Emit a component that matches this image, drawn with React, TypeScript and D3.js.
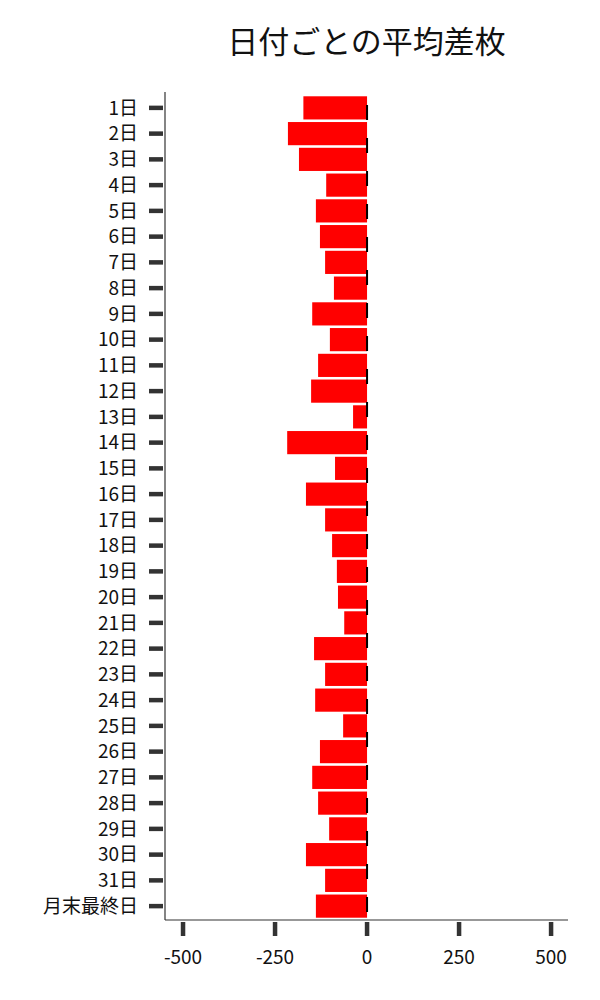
import { useEffect, useRef } from 'react'
import * as d3 from 'd3'

// 日付ラベル
const days = [
  '1日', '2日', '3日', '4日', '5日', '6日', '7日', '8日', '9日', '10日',
  '11日', '12日', '13日', '14日', '15日', '16日', '17日', '18日', '19日', '20日',
  '21日', '22日', '23日', '24日', '25日', '26日', '27日', '28日', '29日', '30日',
  '31日', '月末最終日',
]

// 平均差枚
const avgDiff = [
  -173, -215, -185, -111, -139, -128, -114, -90, -149, -101,
  -133, -152, -38, -217, -87, -166, -114, -95, -82, -79,
  -62, -144, -114, -141, -65, -128, -149, -133, -103, -166,
  -114, -139,
]

const xTicks = [-500, -250, 0, 250, 500]

const FONT = '"Noto Sans CJK JP", "Noto Sans", sans-serif'

export default function App() {
  const svgRef = useRef<SVGSVGElement>(null)

  useEffect(() => {
    if (!svgRef.current) return
    const svg = d3.select(svgRef.current)
    svg.selectAll('*').remove()

    const width = 600
    const height = 1000
    const left = 165
    const right = 568
    const top = 92
    const bottom = 920

    const x = d3.scaleLinear().domain([-549, 546]).range([left, right])
    const y = d3.scaleBand<string>()
      .domain(days)
      .range([top + 3, bottom - 1])
      .paddingInner(0.1)
      .paddingOuter(0.05)

    svg.attr('width', width).attr('height', height)

    // Title
    svg.append('text')
      .attr('x', (left + right) / 2)
      .attr('y', 53)
      .attr('text-anchor', 'middle')
      .style('font-family', FONT)
      .style('font-size', '31px')
      .attr('fill', '#111')
      .text('日付ごとの平均差枚')

    // Bars
    svg.append('g')
      .selectAll('rect')
      .data(avgDiff)
      .join('rect')
      .attr('x', d => x(Math.min(0, d)))
      .attr('y', (_, i) => y(days[i]) ?? 0)
      .attr('width', d => Math.abs(x(d) - x(0)))
      .attr('height', y.bandwidth())
      .attr('fill', '#ff0000')

    // Zero line (dashed)
    svg.append('line')
      .attr('x1', x(0))
      .attr('x2', x(0))
      .attr('y1', 105)
      .attr('y2', bottom)
      .attr('stroke', '#000')
      .attr('stroke-width', 2)
      .attr('stroke-dasharray', '15 18')

    // Spines
    svg.append('line')
      .attr('x1', left).attr('x2', left)
      .attr('y1', top).attr('y2', bottom)
      .attr('stroke', '#333').attr('stroke-width', 1.2)
    svg.append('line')
      .attr('x1', left).attr('x2', right)
      .attr('y1', bottom).attr('y2', bottom)
      .attr('stroke', '#333').attr('stroke-width', 1.2)

    // Y ticks
    const yt = svg.append('g')
    days.forEach(d => {
      const cy = (y(d) ?? 0) + y.bandwidth() / 2
      yt.append('line')
        .attr('x1', left - 16).attr('x2', left - 2)
        .attr('y1', cy).attr('y2', cy)
        .attr('stroke', '#333').attr('stroke-width', 4.5)
      yt.append('text')
        .attr('x', left - 27)
        .attr('y', cy)
        .attr('dy', '0.36em')
        .attr('text-anchor', 'end')
        .style('font-family', FONT)
        .style('font-size', '19px')
        .attr('fill', '#111')
        .text(d)
    })

    // X ticks
    const xt = svg.append('g')
    xTicks.forEach(t => {
      xt.append('line')
        .attr('x1', x(t)).attr('x2', x(t))
        .attr('y1', bottom + 2).attr('y2', bottom + 16)
        .attr('stroke', '#333').attr('stroke-width', 4.5)
      xt.append('text')
        .attr('x', x(t))
        .attr('y', bottom + 44)
        .attr('text-anchor', 'middle')
        .style('font-family', FONT)
        .style('font-size', '19px')
        .attr('fill', '#111')
        .text(String(t))
    })
  }, [])

  return <svg ref={svgRef} style={{ display: 'block', position: 'absolute', left: 0, top: 0 }} />
}
